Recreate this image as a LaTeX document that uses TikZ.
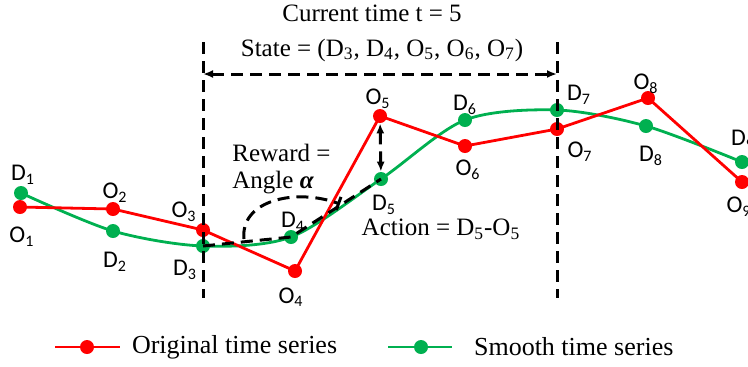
\documentclass[tikz,border=0pt]{standalone}
\usepackage{fontspec}
\setmainfont{Liberation Serif}
\newfontfamily\lblfont{Carlito}
\usetikzlibrary{arrows.meta}
\definecolor{origred}{RGB}{255,0,0}
\definecolor{smoothgreen}{RGB}{0,176,80}

\begin{document}
\begin{tikzpicture}[x=0.5pt,y=-0.5pt,font=\fontsize{12.5}{15}\selectfont,
  odot/.style={circle,fill=origred,inner sep=0pt,minimum size=7pt},
  ddot/.style={circle,fill=smoothgreen,inner sep=0pt,minimum size=7pt},
  origline/.style={origred,line width=1.4pt,line join=round},
  smoothline/.style={smoothgreen,line width=1.4pt},
  lbl/.style={font=\lblfont\fontsize{12}{14}\selectfont,inner sep=0pt},
  dashline/.style={black,line width=1.5pt,dash pattern=on 6pt off 3.5pt}]
\useasboundingbox (0,0) rectangle (748,366);
\clip (0,0) rectangle (748,366);
% points of both series
\coordinate (d1) at (21,193);
\coordinate (d2) at (113,231);
\coordinate (d3) at (203,246);
\coordinate (d4) at (291,237);
\coordinate (d5) at (381,179);
\coordinate (d6) at (465,120);
\coordinate (d7) at (557,110);
\coordinate (d8) at (646,126);
\coordinate (d9) at (742,162);
\coordinate (o1) at (20,207);
\coordinate (o2) at (113,209);
\coordinate (o3) at (203,230);
\coordinate (o4) at (295,271);
\coordinate (o5) at (380,116);
\coordinate (o6) at (465,146);
\coordinate (o7) at (557,129);
\coordinate (o8) at (648,98);
\coordinate (o9) at (742,182);
\draw[smoothline] plot[smooth,tension=0.5] coordinates {(d1) (d2) (d3) (d4) (d5) (d6) (d7) (d8) (d9)};
\draw[origline] (o1) -- (o2) -- (o3) -- (o4) -- (o5) -- (o6) -- (o7) -- (o8) -- (o9);
\node[ddot] (dd1) at (d1) {};
\node[ddot] (dd2) at (d2) {};
\node[ddot] (dd3) at (d3) {};
\node[ddot] (dd4) at (d4) {};
\node[ddot] (dd5) at (d5) {};
\node[ddot] (dd6) at (d6) {};
\node[ddot] (dd7) at (d7) {};
\node[ddot] (dd8) at (d8) {};
\node[ddot] (dd9) at (d9) {};
\node[odot] (od1) at (o1) {};
\node[odot] (od2) at (o2) {};
\node[odot] (od3) at (o3) {};
\node[odot] (od4) at (o4) {};
\node[odot] (od5) at (o5) {};
\node[odot] (od6) at (o6) {};
\node[odot] (od7) at (o7) {};
\node[odot] (od8) at (o8) {};
\node[odot] (od9) at (o9) {};
% point labels
\node[lbl] (ld1) at (23,175) {D\textsubscript{1}};
\node[lbl] (lo1) at (22,237) {O\textsubscript{1}};
\node[lbl] (lo2) at (115,193) {O\textsubscript{2}};
\node[lbl] (ld2) at (115,262) {D\textsubscript{2}};
\node[lbl] (lo3) at (184,212) {O\textsubscript{3}};
\node[lbl] (ld3) at (185,270) {D\textsubscript{3}};
\node[lbl] (ld4) at (293,222) {D\textsubscript{4}};
\node[lbl] (lo4) at (291,297) {O\textsubscript{4}};
\node[lbl] (lo5) at (378,99) {O\textsubscript{5}};
\node[lbl] (ld5) at (384,205) {D\textsubscript{5}};
\node[lbl] (ld6) at (465,105) {D\textsubscript{6}};
\node[lbl] (lo6) at (468,170) {O\textsubscript{6}};
\node[lbl] (ld7) at (579,95) {D\textsubscript{7}};
\node[lbl] (lo7) at (580,152) {O\textsubscript{7}};
\node[lbl] (lo8) at (646,84) {O\textsubscript{8}};
\node[lbl] (ld8) at (651,156) {D\textsubscript{8}};
\node[lbl] (ld9) at (743,140) {D\textsubscript{9}};
\node[lbl] (lo9) at (739,207) {O\textsubscript{9}};
% state window
\coordinate (wlt) at (203,42);
\coordinate (wlb) at (203,298);
\coordinate (wrt) at (557,42);
\coordinate (wrb) at (557,298);
\coordinate (sl) at (203,74);
\coordinate (sr) at (557,74);
\draw[dashline] (wlt) -- (wlb);
\draw[dashline] (wrt) -- (wrb);
\draw[dashline,{Latex[length=5pt,width=4pt]}-{Latex[length=5pt,width=4pt]}] (sl) -- (sr);
\node (now) at (372,13) {Current time t = 5};
\node (state) at (382,50) {State = (D\textsubscript{3}, D\textsubscript{4}, O\textsubscript{5}, O\textsubscript{6}, O\textsubscript{7})};
% reward angle and action
\draw[dashline] (d3) -- (d4) -- (d5);
\coordinate (arcs) at (244,239);
\coordinate (arce) at (340,204);
\draw[dashline,-{Bar[width=7pt]}] (arcs) .. controls (240,200) and (296,188) .. (arce);
\draw[dashline,{Latex[length=5pt,width=4pt]}-{Latex[length=5pt,width=4pt]}] (od5) -- (dd5);
\node[anchor=north west,align=left,inner sep=0pt,font=\fontsize{12.5}{13.5}\selectfont] (reward) at (232,144) {Reward =\\Angle \textbf{\textit{α}}};
\node (action) at (441,229) {Action = D\textsubscript{5}-O\textsubscript{5}};
% legend
\coordinate (lra) at (55,347);
\coordinate (lrb) at (120,347);
\draw[origline] (lra) -- (lrb);
\node[odot] (lrd) at (87,347) {};
\node[anchor=west,font=\fontsize{13}{15}\selectfont] (lrt) at (125,347) {Original time series};
\coordinate (lga) at (388,347);
\coordinate (lgb) at (452,347);
\draw[smoothline] (lga) -- (lgb);
\node[ddot] (lgd) at (421,347) {};
\node[anchor=west,font=\fontsize{13}{15}\selectfont] (lgt) at (467,347) {Smooth time series};
\end{tikzpicture}
\end{document}
